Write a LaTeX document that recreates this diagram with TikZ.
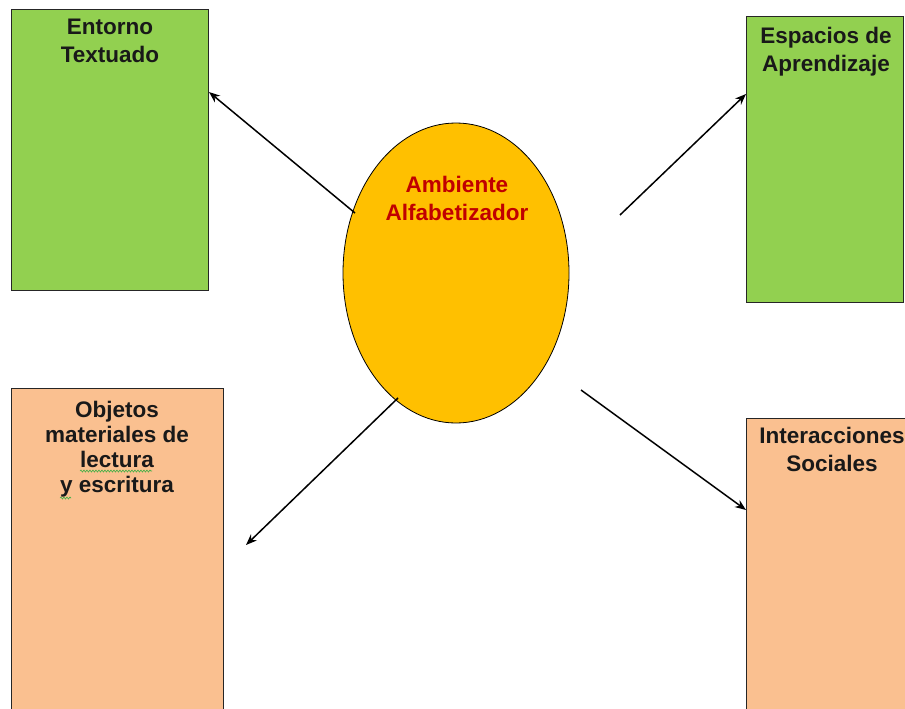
\documentclass[tikz,border=0pt]{standalone}
\usepackage{fontspec}
\setmainfont{Liberation Sans}
\usetikzlibrary{arrows.meta,shapes.geometric,decorations.pathmorphing}
\definecolor{boxgreen}{HTML}{92D050}
\definecolor{boxorange}{HTML}{FAC090}
\definecolor{ellyellow}{HTML}{FFC000}
\definecolor{titlered}{HTML}{C00000}
\definecolor{spellgreen}{HTML}{3CB043}
\tikzset{
  box/.style={draw=black!85, line width=1.2pt, anchor=north west, inner sep=0pt},
  greenbox/.style={box, fill=boxgreen},
  orangebox/.style={box, fill=boxorange},
  label/.style={anchor=north, inner sep=0pt, align=center, font=\bfseries\fontsize{22.5}{27.5}\selectfont, text=black!90},
  link/.style={line width=1.5pt, -{Stealth[length=11pt,width=8.5pt]}},
  spell/.style={spellgreen, line width=0.6pt, decorate, decoration={snake, amplitude=1pt, segment length=3pt}}
}
\begin{document}
\begin{tikzpicture}[x=1pt,y=-1pt]
\clip (0,0) rectangle (905,709);
\fill[white] (0,0) rectangle (905,709);
% boxes
\node[greenbox, minimum width=197pt, minimum height=281pt] (et) at (11,9) {};
\node[greenbox, minimum width=157pt, minimum height=286pt] (ea) at (746,16) {};
\node[orangebox, minimum width=212pt, minimum height=330pt] (om) at (11,388) {};
\node[orangebox, minimum width=180pt, minimum height=300pt] (is) at (746,418) {};
% ellipse
\node[ellipse, draw=black, line width=0.8pt, fill=ellyellow, minimum width=226pt, minimum height=300pt, inner sep=0pt] (amb) at (456,273) {};
% labels
\node[label] (etl) at (110,19) {Entorno\\Textuado};
\node[label] (eal) at (826,27) {Espacios de\\Aprendizaje};
\node[label] (oml) at (117,401) {Objetos\\[-2.5pt]materiales de\\[-2.5pt]lectura\\[-2.5pt]y escritura};
\node[label] (isl) at (832,427) {Interacciones\\Sociales};
\node[label, text=titlered] (ambl) at (457,176) {Ambiente\\Alfabetizador};
% spelling underlines
\draw[spell] (80,471) -- (152,471);
\draw[spell] (60,498) -- (71,498);
% arrow start points
\coordinate (s1) at (355,213);
\coordinate (s2) at (620,215);
\coordinate (s3) at (398,398);
\coordinate (s4) at (581,390);
\coordinate (e1) at (209,92);
\coordinate (e2) at (746,94);
\coordinate (e3) at (246,545);
\coordinate (e4) at (746,510);
\draw[link] (s1) -- (e1);
\draw[link] (s2) -- (e2);
\draw[link] (s3) -- (e3);
\draw[link] (s4) -- (e4);
\end{tikzpicture}
\end{document}
